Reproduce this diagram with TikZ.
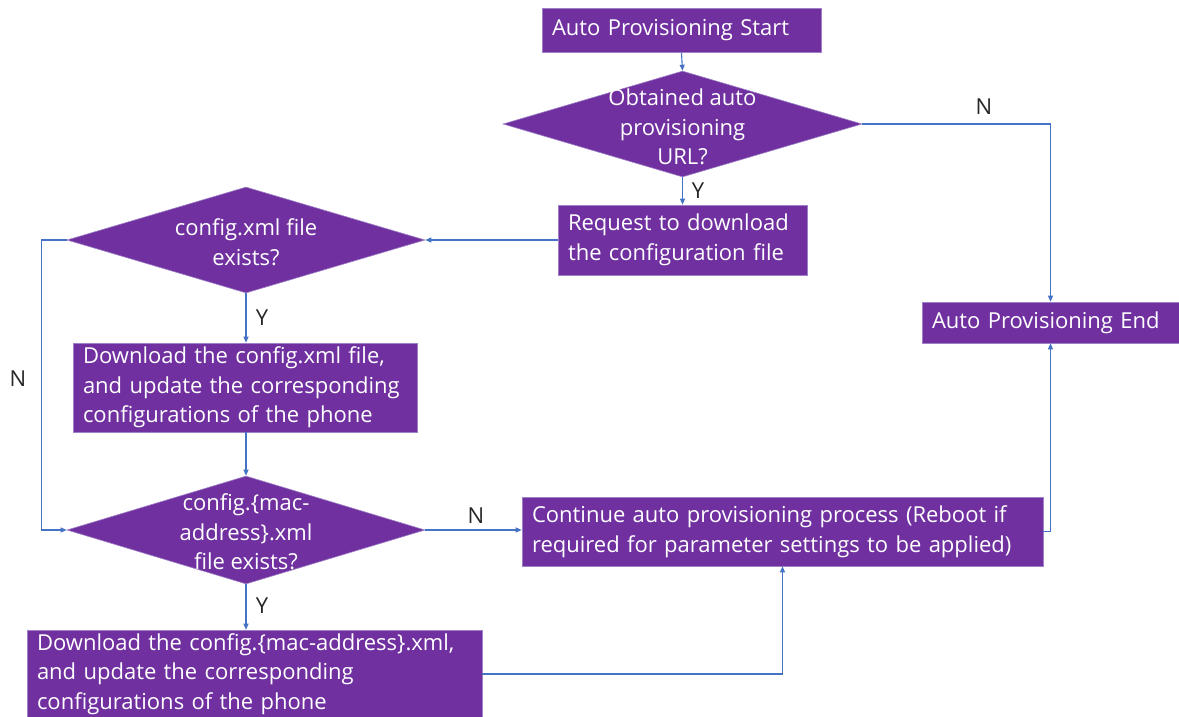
\documentclass[tikz,border=0pt]{standalone}
\usepackage{fontspec}
\setmainfont{Open Sans}
\usetikzlibrary{arrows.meta,shapes.geometric}
\definecolor{purp}{HTML}{7030A0}
\definecolor{purpedge}{HTML}{9E80C8}
\definecolor{lineblue}{HTML}{4472C4}
\definecolor{lbl}{HTML}{262626}
\begin{document}
\begin{tikzpicture}[x=1pt,y=-1pt,
  every node/.style={font=\fontsize{22}{29.5}\selectfont},
  pbox/.style={rectangle,fill=purp,draw=purpedge,line width=0.6pt,text=white,align=left,inner xsep=10pt,inner ysep=0pt},
  pdia/.style={diamond,fill=purp,draw=purpedge,line width=0.6pt,inner sep=0pt},
  dtext/.style={text=white,align=center,inner sep=0pt},
  conn/.style={draw=lineblue,line width=1.1pt,-{Triangle[length=6pt,width=5pt]}},
  yn/.style={text=lbl,inner sep=0pt}]
\useasboundingbox (0,0) rectangle (1179,717);

\node[pbox,minimum width=279pt,minimum height=44pt,text width=259pt] (start) at (681.5,30.5) {Auto Provisioning Start};
\node[pdia,minimum width=359pt,minimum height=106pt] (d1) at (682.5,124) {};
\node[dtext] (d1t) at (682.5,127) {Obtained auto\\provisioning\\URL?};
\node[pbox,minimum width=249pt,minimum height=70pt,text width=229pt] (req) at (682.5,240) {Request to download\\the configuration file};
\node[pdia,minimum width=358pt,minimum height=106pt] (d2) at (246,240) {};
\node[dtext] (d2t) at (246,242) {config.xml file\\exists?};
\node[pbox,minimum width=344pt,minimum height=89pt,text width=324pt] (dl1) at (245,387.5) {Download the config.xml file,\\and update the corresponding\\configurations of the phone};
\node[pdia,minimum width=358pt,minimum height=108pt] (d3) at (246,530) {};
\node[dtext] (d3t) at (246,532) {config.\{mac-\\address\}.xml\\file exists?};
\node[pbox,minimum width=521pt,minimum height=69pt,text width=501pt] (cont) at (782.5,531.5) {Continue auto provisioning process (Reboot if\\required for parameter settings to be applied)};
\node[pbox,minimum width=257pt,minimum height=41pt,text width=237pt] (end) at (1050.5,322.5) {Auto Provisioning End};
\node[pbox,minimum width=455pt,minimum height=88pt,text width=435pt] (dl2) at (254.5,674) {Download the config.\{mac-address\}.xml,\\and update the corresponding\\configurations of the phone};

\draw[conn] (start.south) -- (d1.north);
\draw[conn] (d1.south) -- (req.north);
\node[yn] (y1) at (698,191) {Y};
\draw[conn] (req.west) -- (d2.east);
\draw[conn] (d2.south) -- (d2.south |- dl1.north);
\node[yn] (y2) at (262,318) {Y};
\draw[conn] (d2.south |- dl1.south) -- (d3.north);
\draw[conn] (d2.west) -- ++(-25,0) coordinate (nl) |- (d3.west);
\node[yn] (n2) at (18,379) {N};
\draw[conn] (d3.east) -- (d3.east -| cont.west);
\node[yn] (n3) at (476,516) {N};
\draw[conn] (d3.south) -- (d3.south |- dl2.north);
\node[yn] (y3) at (262,606) {Y};
\draw[conn] (dl2.east) -| (cont.south);
\draw[conn] (cont.east) -| (end.south);
\draw[conn] (d1.east) -| (end.north);
\node[yn] (n1) at (984,107) {N};
\end{tikzpicture}
\end{document}
